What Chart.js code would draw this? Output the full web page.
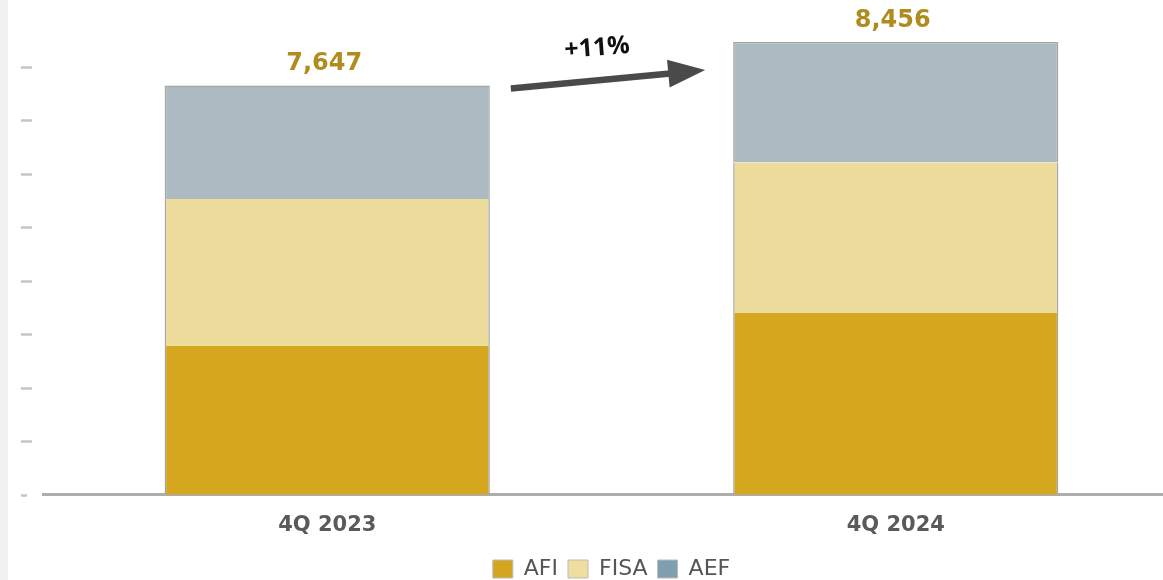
<!DOCTYPE html>
<html><head><meta charset="utf-8">
<script src="https://cdn.jsdelivr.net/npm/chart.js@4.4.1/dist/chart.umd.min.js"></script>
<style>
html,body{margin:0;padding:0;background:#fff;overflow:hidden;width:1163px;height:580px}
#strip{position:absolute;left:0;top:0;width:8px;height:580px;background:#f1f1f1}
#wrap{position:absolute;left:0;top:0;width:1184px;height:580px}
</style></head><body>
<div id="strip"></div>
<div id="wrap"><canvas id="c" width="1184" height="580"></canvas></div>
<script>
const categories = ['4Q 2023', '4Q 2024'];
const seriesNames = ['AFI', 'FISA', 'AEF'];
const afi = [2780, 3395];
const fisa = [2745, 2812];
const aef = [2122, 2249];
const totals = [7647, 8456];
const totalLabels = ['7,647', '8,456'];
const growthLabel = '+11%';
const yTicks = [0, 1000, 2000, 3000, 4000, 5000, 6000, 7000, 8000];

const colors = ['#D4A71F', '#EEDC9D', '#ACBBC2'];
const legendColors = ['#D4A520', '#F0DEA0', '#7E9FAF'];

const annotations = {
  id: 'annotations',
  beforeDatasetsDraw(chart) {
    const ctx = chart.ctx, y = chart.scales.y;
    ctx.save();
    ctx.strokeStyle = '#c6c6c6';
    ctx.lineWidth = 2.5;
    yTicks.forEach(v => {
      const py = Math.round(y.getPixelForValue(v)) + 0.5;
      ctx.beginPath();
      ctx.moveTo(21, py);
      ctx.lineTo(v === 0 ? 27 : 32, py);
      ctx.stroke();
    });
    ctx.restore();
  },
  afterDatasetsDraw(chart) {
    const ctx = chart.ctx, y = chart.scales.y;
    const meta = chart.getDatasetMeta(2);
    ctx.save();
    // totals
    ctx.fillStyle = '#B08B1E';
    ctx.font = 'bold 24px "DejaVu Sans"';
    ctx.textAlign = 'center';
    ctx.textBaseline = 'alphabetic';
    meta.data.forEach((bar, i) => {
      const top = y.getPixelForValue(totals[i]);
      ctx.fillText(totalLabels[i], bar.x - 3, top - 15);
    });
    // arrow
    const b0 = meta.data[0], b1 = meta.data[1];
    const x0 = b0.x + b0.width / 2 + 21, y0 = y.getPixelForValue(totals[0]) + 3;
    const x1 = b1.x - b1.width / 2 - 28, y1 = y.getPixelForValue(totals[1]) + 28;
    const ang = Math.atan2(y1 - y0, x1 - x0);
    const headLen = 37, headHalf = 14;
    const bx = x1 - headLen * Math.cos(ang), by = y1 - headLen * Math.sin(ang);
    ctx.strokeStyle = '#4a4a4a';
    ctx.fillStyle = '#4a4a4a';
    ctx.lineWidth = 6.5;
    ctx.beginPath();
    ctx.moveTo(x0, y0);
    ctx.lineTo(bx + 2 * Math.cos(ang), by + 2 * Math.sin(ang));
    ctx.stroke();
    ctx.beginPath();
    ctx.moveTo(x1, y1);
    ctx.lineTo(bx + headHalf * Math.sin(ang), by - headHalf * Math.cos(ang));
    ctx.lineTo(bx - headHalf * Math.sin(ang), by + headHalf * Math.cos(ang));
    ctx.closePath();
    ctx.fill();
    // growth label
    const mx = (x0 + x1) / 2 - 11, my = (y0 + y1) / 2 - 31;
    ctx.translate(mx, my);
    ctx.rotate(ang * 0.8);
    ctx.fillStyle = '#111';
    ctx.font = 'bold 25px "Open Sans"';
    ctx.textAlign = 'center';
    ctx.textBaseline = 'middle';
    ctx.fillText(growthLabel, 0, 0);
    ctx.restore();
  }
};

const seriesData = [afi, fisa, aef];
new Chart(document.getElementById('c'), {
  type: 'bar',
  data: {
    labels: categories,
    datasets: seriesNames.map((name, i) => ({
      label: name,
      data: seriesData[i],
      backgroundColor: colors[i],
      borderColor: '#a5a5a5',
      borderWidth: {left: 1.5, right: 1.5, top: i === 2 ? 1.5 : 0, bottom: 0},
      borderSkipped: false,
      barPercentage: 0.572,
      categoryPercentage: 1
    }))
  },
  options: {
    responsive: false,
    animation: false,
    layout: {padding: {top: 13, left: 43, right: 4, bottom: -10}},
    plugins: {
      tooltip: {enabled: false},
      legend: {
        position: 'bottom',
        labels: {
          boxWidth: 20,
          boxHeight: 18,
          padding: 10,
          color: '#555',
          font: {family: '"DejaVu Sans"', size: 22},
          generateLabels(chart) {
            return seriesNames.map((n, i) => ({
              text: n, fillStyle: legendColors[i], strokeStyle: '#bbb', lineWidth: 1,
              datasetIndex: i, hidden: false, fontColor: '#555'
            }));
          }
        }
      }
    },
    scales: {
      x: {
        stacked: true,
        grid: {display: false},
        border: {display: true, color: '#adadad', width: 3},
        ticks: {color: '#5a5a5a', font: {family: '"DejaVu Sans"', size: 21, weight: 'bold', lineHeight: 1.3}, padding: 9}
      },
      y: {
        stacked: true,
        display: false,
        min: 0,
        max: 9000,
        ticks: {stepSize: 1000}
      }
    }
  },
  plugins: [annotations]
});
</script>
</body></html>
